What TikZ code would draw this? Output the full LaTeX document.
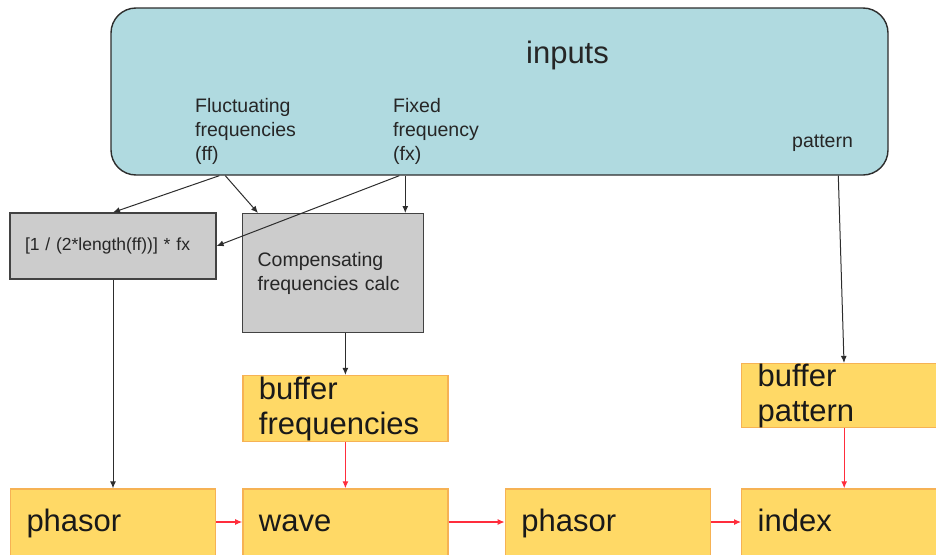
\documentclass[tikz,border=0pt]{standalone}
\usepackage{fontspec}
\setmainfont{Liberation Sans}
\usepackage{tikz}
\usetikzlibrary{positioning, calc, arrows.meta}

\definecolor{in-blue}{RGB}{176,218,224}
\definecolor{op-gray}{RGB}{204,204,204}
\definecolor{buf-yellow}{RGB}{255,217,102}
\definecolor{buf-orange}{RGB}{246,178,84}
\definecolor{flow-red}{RGB}{255,45,60}
\definecolor{line-dark}{RGB}{45,45,45}

\begin{document}
\begin{tikzpicture}[
    x=1pt, y=-1pt,
    node distance=26pt,
    inbox/.style={rectangle, draw=line-dark, fill=in-blue, rounded corners=25pt, line width=1.4pt, minimum width=777pt, minimum height=167pt},
    inlabel/.style={inner sep=0pt, align=left, font=\fontsize{19.5}{24}\selectfont, text=black!85},
    calcbox/.style={rectangle, draw=line-dark!90, fill=op-gray, line width=1.2pt, align=left, inner xsep=15pt, inner ysep=0pt, text=black!85},
    bufbox/.style={rectangle, draw=buf-orange, fill=buf-yellow, line width=1.4pt, align=left, text width=173pt, inner xsep=16pt, inner ysep=0pt, minimum height=66pt, font=\fontsize{31}{35}\selectfont, text=black!90},
    stagebox/.style={bufbox, minimum height=70pt, text height=22pt, text depth=7pt},
    arrow/.style={-{Latex[length=7pt, width=6pt]}, line width=1pt, color=line-dark},
    flow/.style={-{Latex[length=7pt, width=6pt]}, line width=1.1pt, color=flow-red}
]
    \useasboundingbox (0,0) rectangle (936,554);
    \clip (0,0) rectangle (936,554);

    % Entradas
    \node[inbox] (in) at (499.5,91.5) {};
    \node[anchor=base, font=\fontsize{31}{36}\selectfont, text=black!85] (title) at (567.5,63) {inputs};
    \node[inlabel, anchor=north west] (ff) at (195,98) {Fluctuating\\frequencies\\(ff)};
    \node[inlabel, anchor=north west] (fx) at (393,98) {Fixed\\frequency\\(fx)};
    \node[inlabel, anchor=base west] (pat) at (792,147) {pattern};

    % Calculos
    \node[calcbox, text width=176pt, minimum height=66pt, font=\fontsize{17.5}{21}\selectfont] (calc) at (113,246) {[1 / (2*length(ff))] * fx};
    \node[calcbox, anchor=north west, text width=151pt, minimum height=119pt, font=\fontsize{19.5}{24}\selectfont] (comp) at (242,213) {Compensating\\frequencies calc};

    % Buffers e cadeia
    \node[stagebox] (phA) at (113,524) {phasor};
    \node[stagebox, right=of phA] (wave) {wave};
    \node[stagebox, right=56pt of wave] (phB) {phasor};
    \node[stagebox, right=30pt of phB] (idx) {index};
    \node[bufbox, above=46pt of wave] (buffr) {buffer\\frequencies};
    \node[bufbox, above=60pt of idx, minimum height=64pt] (bufpat) {buffer\\pattern};

    % Saidas da caixa de entradas
    \coordinate (ff-a) at ([xshift=109pt]in.south west);
    \coordinate (ff-b) at ([xshift=115pt]in.south west);
    \coordinate (fx-a) at ([xshift=289pt]in.south west);
    \coordinate (fx-b) at ([xshift=295pt]in.south west);
    \coordinate (pat-out) at ([xshift=728pt]in.south west);

    % Setas
    \draw[arrow] (ff-a) -- (calc.north);
    \draw[arrow] (ff-b) -- ([xshift=16pt]comp.north west);
    \draw[arrow] (fx-a) -- (calc.east);
    \draw[arrow] (fx-b) -- (fx-b |- comp.north);
    \draw[arrow] (pat-out) -- ([xshift=103pt]bufpat.north west);
    \draw[arrow] (calc) -- (phA);
    \draw[arrow] (buffr.north |- comp.south) -- (buffr.north);

    \draw[flow] (buffr) -- (wave);
    \draw[flow] (bufpat) -- (idx);
    \draw[flow] ([yshift=2pt]phA.east) -- ([yshift=2pt]wave.west);
    \draw[flow] ([yshift=2pt]wave.east) -- ([yshift=2pt]phB.west);
    \draw[flow] ([yshift=2pt]phB.east) -- ([yshift=2pt]idx.west);
\end{tikzpicture}
\end{document}
